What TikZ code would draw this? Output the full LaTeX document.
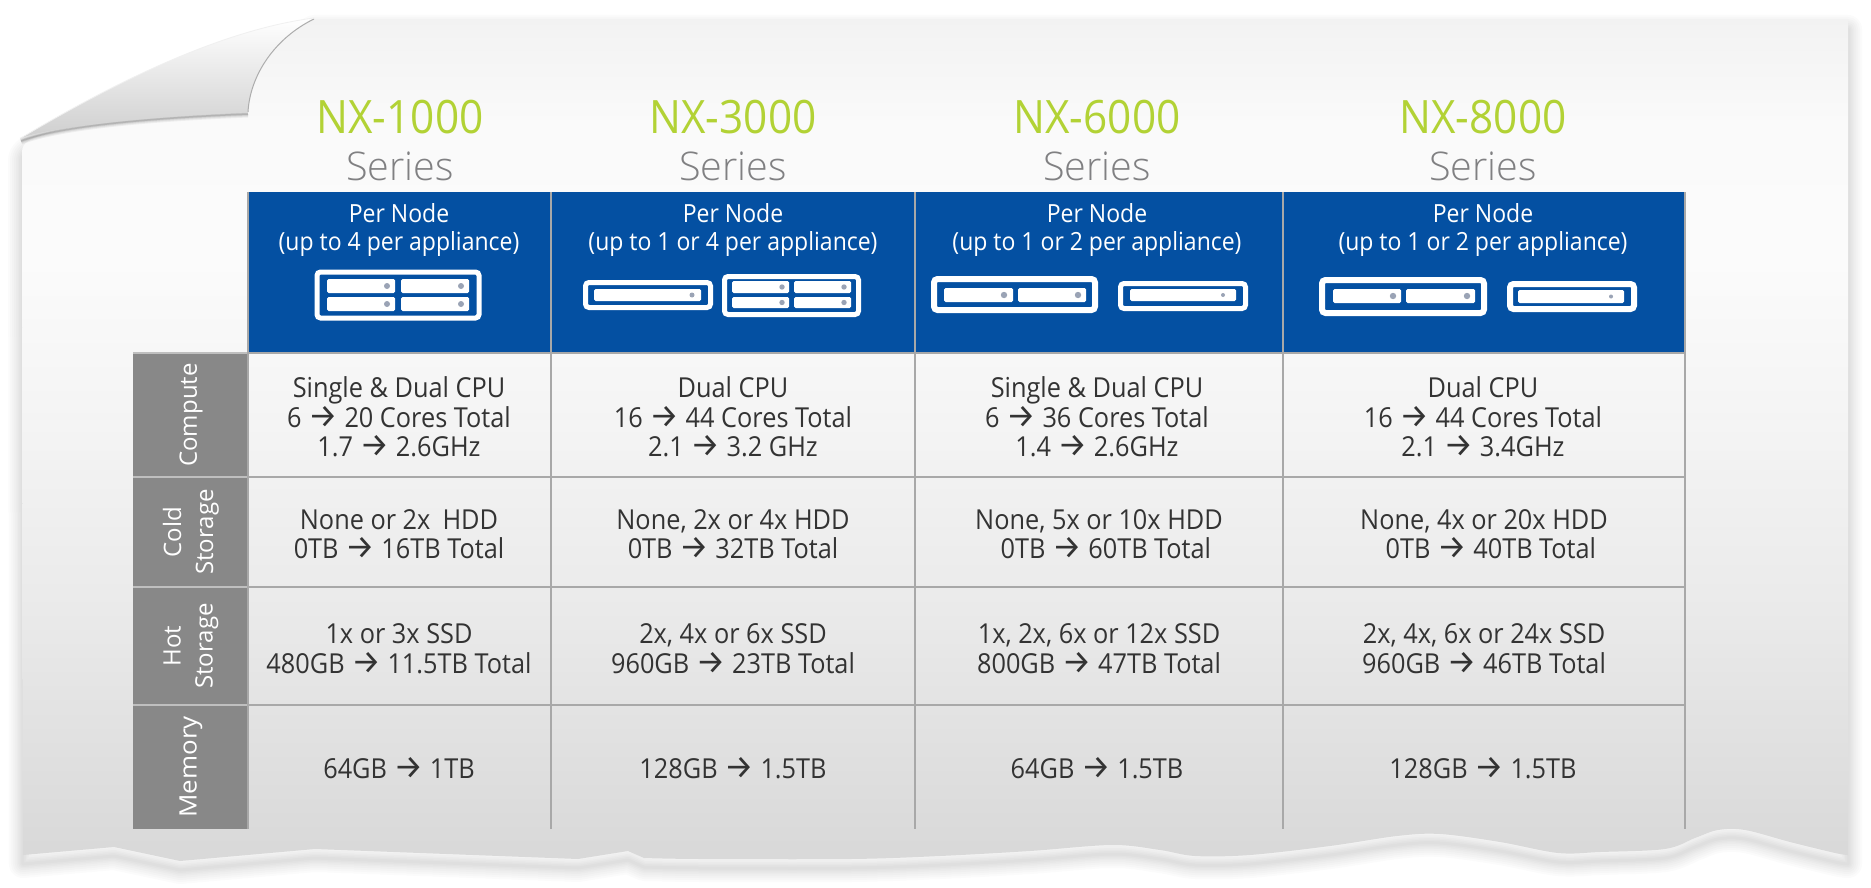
\documentclass[tikz,border=0pt]{standalone}
\usepackage{fontspec}
\setmainfont{Open Sans}[FakeStretch=0.92]
\newfontfamily\arrowfont{Fira Sans}
\newfontfamily\labelfont{Open Sans}
\newfontfamily\lightfont{Open Sans Light}
\definecolor{nxblue}{HTML}{0450A2}
\definecolor{nxgreen}{HTML}{B2D235}
\definecolor{nxgrey}{HTML}{808082}
\definecolor{celltext}{HTML}{333333}
\definecolor{gridline}{HTML}{A8A8A8}
\definecolor{labelfill}{HTML}{888888}
\definecolor{dotgrey}{HTML}{9AA3B5}
\pgfdeclareverticalshading{papershade}{100bp}{
 color(0bp)=(black!15!white);
 color(25.6bp)=(black!15!white);
 color(40.5bp)=(black!8!white);
 color(52bp)=(black!4!white);
 color(61bp)=(black!1.5!white);
 color(69bp)=(black!2!white);
 color(74.9bp)=(black!5!white);
 color(100bp)=(black!5!white)}
\newcommand{\ra}{{\arrowfont\fontsize{33}{29.5}\selectfont →}}
\newcommand{\srvbox}[5]{\draw[white,line width=#5,rounded corners=3.5pt] (#1,#2) rectangle (#3,#4);}
\newcommand{\srvslot}[6]{\fill[white,rounded corners=1.5pt] (#1,#2) rectangle (#3,#4);
 \fill[dotgrey] (#5,{(#2+#4)/2}) circle (#6pt);}
\def\paperpath{(22,152) .. controls (22,142) and (30,138) .. (60,130)
 .. controls (110,118) and (180,114) .. (248,112)
 .. controls (250,75) and (275,38) .. (314,20)
 -- (1848,20) -- (1848,855)
 -- plot[smooth,tension=0.55] coordinates {(1848,855) (1835,853) (1790,842) (1745,830) (1718,830) (1695,838) (1665,849) (1600,852) (1558,853) (1500,842) (1440,834) (1397,836) (1330,846) (1250,855) (1195,856) (1160,850) (1112,845) (1030,851) (940,856) (851,859) (700,859) (644,858)}
 -- (628,851) -- (578,859) -- (315,849) -- (180,861) -- (114,847) -- (23,855) -- cycle}
\tikzset{
 x=1pt,y=-1pt,
 titlenode/.style={text=nxgreen,font=\fontsize{46}{46}\selectfont,inner sep=0pt,anchor=center},
 seriesnode/.style={text=nxgrey,font=\lightfont\fontsize{39.5}{42}\selectfont,inner sep=0pt,anchor=center},
 headnode/.style={text=white,font=\fontsize{25}{28.5}\selectfont,align=center,inner sep=0pt,anchor=center},
 cellnode/.style={text=celltext,font=\fontsize{27.5}{29.5}\selectfont,align=center,inner sep=0pt,anchor=center},
 rownode/.style={text=white,font=\labelfont\fontsize{24}{32}\selectfont,align=center,inner sep=0pt,anchor=center,rotate=90},
 gridv/.style={gridline,line width=1.6pt},
 gridh/.style={gridline,line width=2.4pt},
}
\begin{document}
\begin{tikzpicture}
\useasboundingbox (0,0) rectangle (1871,888);
\fill[white] (0,0) rectangle (1871,888);
% paper shadow
\foreach \w in {28,24,20,16,12,9,6,3}{
 \draw[black,opacity=.017,line width=\w pt,line join=round,yshift=-9pt] \paperpath;
}
% paper
\shade[shading=papershade] \paperpath;
% flap shadow on paper
\foreach \w/\o in {7/.05,5/.06,3/.08,1.5/.12}{
 \draw[black,opacity=\o,line width=\w pt,yshift=-1pt]
 (21,140) .. controls (60,125) and (150,117) .. (248,113);
}
% flap
\shade[top color=white,bottom color=black!19!white,shading angle=0]
 (21,138) .. controls (110,85) and (220,30) .. (314,18)
 .. controls (275,38) and (250,75) .. (248,112)
 .. controls (150,117) and (60,125) .. (21,138) -- cycle;
\draw[black!32!white,line width=1pt] (314,19) .. controls (275,38) and (250,75) .. (248,112);
\draw[black!6!white,line width=.8pt] (21,138) .. controls (110,85) and (220,30) .. (314,18);
% table backgrounds
\fill[nxblue] (248,192) rectangle (1685,353);
\fill[labelfill] (133,353) rectangle (248,829);
% grid
\foreach \yy in {353,477,587,705}{
 \draw[gridh] (248,\yy) -- (1685,\yy);
 \draw[black!25!white,line width=2.4pt] (133,\yy) -- (248,\yy);
}
\foreach \xx in {248,551,915,1283,1685}{
 \draw[gridv] (\xx,192) -- (\xx,829);
}
% titles
\node[titlenode] (t1) at (400,117) {NX-1000};
\node[titlenode] (t2) at (733,117) {NX-3000};
\node[titlenode] (t3) at (1097,117) {NX-6000};
\node[titlenode] (t4) at (1483,117) {NX-8000};
\node[seriesnode] (s1) at (400,166) {Series};
\node[seriesnode] (s2) at (733,166) {Series};
\node[seriesnode] (s3) at (1097,166) {Series};
\node[seriesnode] (s4) at (1483,166) {Series};
% header cells
\node[headnode] (h1) at (399,230) {Per Node\\(up to 4 per appliance)};
\node[headnode] (h2) at (733,230) {Per Node\\(up to 1 or 4 per appliance)};
\node[headnode] (h3) at (1097,230) {Per Node\\(up to 1 or 2 per appliance)};
\node[headnode] (h4) at (1483,230) {Per Node\\(up to 1 or 2 per appliance)};
% icons col 1
\srvbox{317}{272}{479}{318}{5pt}
\srvslot{327}{279}{395}{293}{387}{3}
\srvslot{401}{279}{469}{293}{461}{3}
\srvslot{327}{297}{395}{311}{387}{3}
\srvslot{401}{297}{469}{311}{461}{3}
% icons col 2
\srvbox{585.5}{282.5}{710.5}{307.5}{5pt}
\srvslot{594}{289}{701}{301}{692}{2.5}
\srvbox{724.5}{276.5}{858.5}{314.5}{5pt}
\srvslot{732}{281}{789}{293}{782}{2.7}
\srvslot{794}{281}{851}{293}{844}{2.7}
\srvslot{732}{297}{789}{308}{782}{2.7}
\srvslot{794}{297}{851}{308}{844}{2.7}
% icons col 3
\srvbox{934}{279}{1095}{310}{6pt}
\srvslot{944}{288}{1013}{302}{1004}{3.2}
\srvslot{1018}{288}{1086}{302}{1078}{3.2}
\srvbox{1120.5}{283.5}{1245.5}{308.5}{5pt}
\srvslot{1130}{289}{1236}{301}{1223}{2}
% icons col 4
\srvbox{1322}{280}{1484}{313}{6pt}
\srvslot{1333}{289}{1401}{303}{1393}{3.2}
\srvslot{1406}{289}{1475}{303}{1467}{3.2}
\srvbox{1510}{284}{1634}{309}{6pt}
\srvslot{1518}{290}{1624}{303}{1611}{2}
% row labels
\node[rownode] (r1) at (191,415) {Compute};
\node[rownode] (r2) at (191,532) {Cold\\Storage};
\node[rownode] (r3) at (191,646) {Hot\\Storage};
\node[rownode] (r4) at (191,767) {\scalebox{1.08}[1]{Memory}};
% compute
\node[cellnode] (c11) at (399,417) {Single \& Dual CPU\\6 \ra{} 20 Cores Total\\1.7 \ra{} 2.6GHz};
\node[cellnode] (c12) at (733,417) {Dual CPU\\16 \ra{} 44 Cores Total\\2.1 \ra{} 3.2 GHz};
\node[cellnode] (c13) at (1097,417) {Single \& Dual CPU\\6 \ra{} 36 Cores Total\\1.4 \ra{} 2.6GHz};
\node[cellnode] (c14) at (1483,417) {Dual CPU\\16 \ra{} 44 Cores Total\\2.1 \ra{} 3.4GHz};
% cold
\node[cellnode] (c21) at (399,534) {None or 2x\hspace{.2em} HDD\\0TB \ra{} 16TB Total};
\node[cellnode] (c22) at (733,534) {None, 2x or 4x HDD\\0TB \ra{} 32TB Total};
\node[cellnode] (c23) at (1099,534) {None, 5x or 10x HDD\\\hspace{.5em}0TB \ra{} 60TB Total};
\node[cellnode] (c24) at (1484,534) {None, 4x or 20x HDD\\\hspace{.5em}0TB \ra{} 40TB Total};
% hot
\node[cellnode] (c31) at (399,648.5) {1x or 3x SSD\\480GB \ra{} 11.5TB Total};
\node[cellnode] (c32) at (733,648.5) {2x, 4x or 6x SSD\\960GB \ra{} 23TB Total};
\node[cellnode] (c33) at (1099,648.5) {1x, 2x, 6x or 12x SSD\\800GB \ra{} 47TB Total};
\node[cellnode] (c34) at (1484,648.5) {2x, 4x, 6x or 24x SSD\\960GB \ra{} 46TB Total};
% memory
\node[cellnode] (c41) at (399,768) {64GB \ra{} 1TB};
\node[cellnode] (c42) at (733,768) {128GB \ra{} 1.5TB};
\node[cellnode] (c43) at (1097,768) {64GB \ra{} 1.5TB};
\node[cellnode] (c44) at (1483,768) {128GB \ra{} 1.5TB};
\end{tikzpicture}
\end{document}
